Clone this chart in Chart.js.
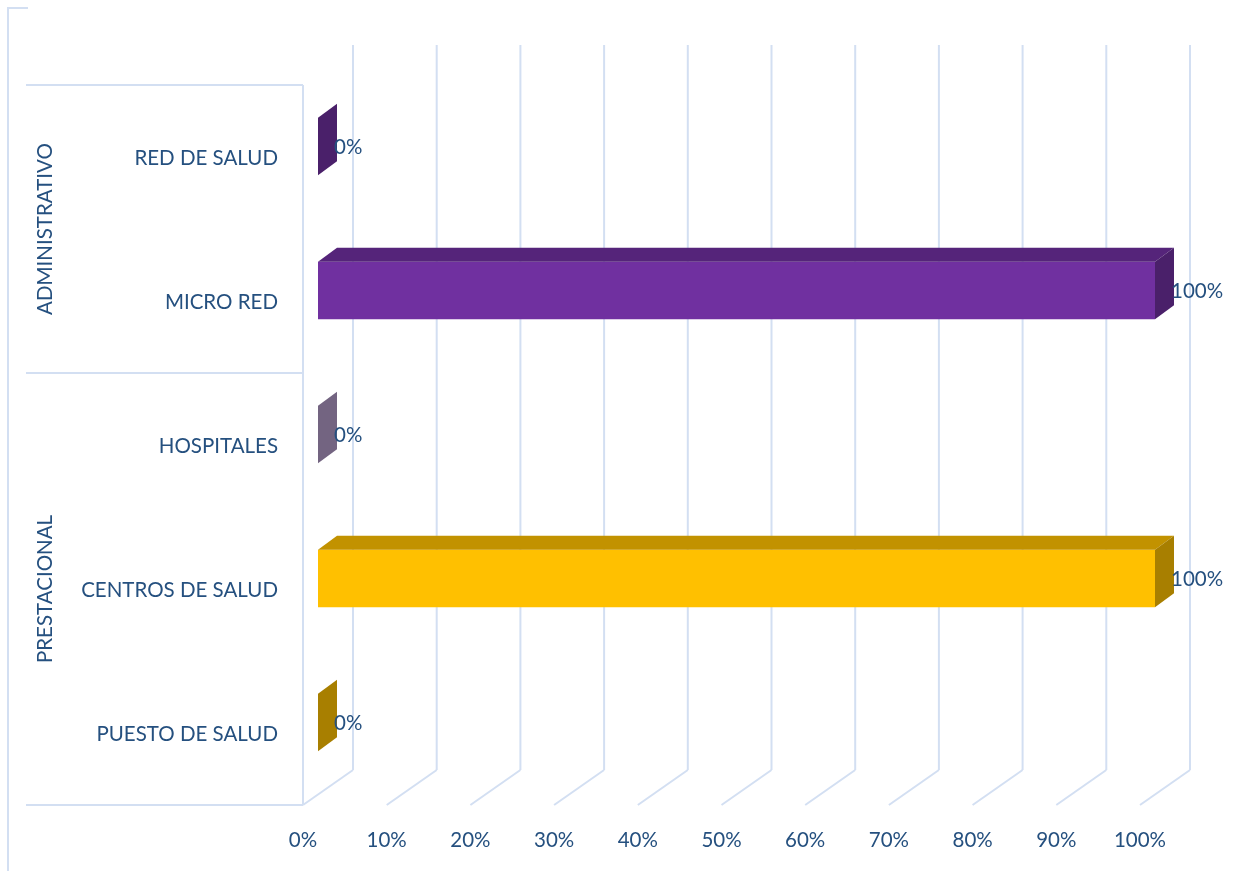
<!DOCTYPE html>
<html>
<head>
<meta charset="utf-8">
<script src="https://cdn.jsdelivr.net/npm/chart.js@4.4.0/dist/chart.umd.min.js"></script>
<style>
  html, body { margin: 0; padding: 0; background: #fff; }
</style>
</head>
<body>
<canvas id="myCanvas" width="1245" height="871"></canvas>
<script>
'use strict';

// data

const categories = ['RED DE SALUD', 'MICRO RED', 'HOSPITALES', 'CENTROS DE SALUD', 'PUESTO DE SALUD'];
const shares = [0, 1, 0, 1, 0];
const groupNames = ['ADMINISTRATIVO', 'PRESTACIONAL'];
const groupSizes = [2, 3];
const tickLabels = ['0%', '10%', '20%', '30%', '40%', '50%', '60%', '70%', '80%', '90%', '100%'];
const barColors = ['#7030a0', '#7030a0', '#ae98c3', '#ffc000', '#ffc000'];

// look of the fake 3d box

const textColor = '#25507f';
const gridColor = '#d3dff2';
const fontFamily = 'Lato, "Open Sans", sans-serif';
const fontSize = 20.5;

// bars sit a bit behind the front plane of the box
const frontDx = -15, frontDy = 10.5;
const backDx = 35, backDy = -24.5;
const barDepthX = 19, barDepthY = -14;
const wallTop = 45;

function shade(hex, f) {
  const n = parseInt(hex.slice(1), 16);
  const r = Math.round(((n >> 16) & 255) * f);
  const g = Math.round(((n >> 8) & 255) * f);
  const b = Math.round((n & 255) * f);
  return `rgb(${r},${g},${b})`;
}

function line(ctx, x1, y1, x2, y2) {
  ctx.beginPath();
  ctx.moveTo(x1, y1);
  ctx.lineTo(x2, y2);
  ctx.stroke();
}

// walls, floor, group boxes on the left
const boxPlugin = {
  id: 'box',
  beforeDatasetsDraw(chart) {
    const ctx = chart.ctx;
    const xs = chart.scales.x;
    const ys = chart.scales.y;
    const area = chart.chartArea;
    ctx.save();
    ctx.strokeStyle = gridColor;
    ctx.lineWidth = 2;

    // outer frame bit
    line(ctx, 8, 871, 8, 8);
    line(ctx, 7, 8, 28, 8);

    const floorFront = area.bottom + frontDy;
    const floorBack = area.bottom + backDy;
    for (let i = 0; i < tickLabels.length; i++) {
      const px = xs.getPixelForValue(i / 10);
      line(ctx, px + backDx, wallTop, px + backDx, floorBack);
      line(ctx, px + frontDx, floorFront, px + backDx, floorBack);
    }

    // category axis on the front plane
    const axisX = area.left + frontDx;
    const topY = area.top + frontDy;
    line(ctx, axisX, topY, axisX, floorFront);

    // group separators and names
    let start = 0;
    let yStart = topY;
    ctx.fillStyle = textColor;
    ctx.font = `${fontSize}px ${fontFamily}`;
    ctx.textAlign = 'center';
    ctx.textBaseline = 'middle';
    line(ctx, 26, yStart, axisX, yStart);
    for (let g = 0; g < groupNames.length; g++) {
      const last = start + groupSizes[g] - 1;
      let yEnd;
      if (last === categories.length - 1) {
        yEnd = floorFront;
      } else {
        yEnd = (ys.getPixelForValue(last) + ys.getPixelForValue(last + 1)) / 2 + frontDy;
      }
      line(ctx, 26, yEnd, axisX, yEnd);
      ctx.save();
      ctx.translate(45, (yStart + yEnd) / 2);
      ctx.rotate(-Math.PI / 2);
      ctx.fillText(groupNames[g], 0, 0);
      ctx.restore();
      start = last + 1;
      yStart = yEnd;
    }
    ctx.restore();
  },
  afterDatasetsDraw(chart) {
    const ctx = chart.ctx;
    const meta = chart.getDatasetMeta(0);
    ctx.save();
    meta.data.forEach((bar, i) => {
      const top = bar.y - bar.height / 2;
      const bottom = bar.y + bar.height / 2;
      const left = bar.base;
      const right = bar.x;
      // top face
      ctx.fillStyle = shade(barColors[i], 0.76);
      ctx.beginPath();
      ctx.moveTo(left, top);
      ctx.lineTo(right, top);
      ctx.lineTo(right + barDepthX, top + barDepthY);
      ctx.lineTo(left + barDepthX, top + barDepthY);
      ctx.closePath();
      ctx.fill();
      // right side face
      ctx.fillStyle = shade(barColors[i], 0.66);
      ctx.beginPath();
      ctx.moveTo(right, top);
      ctx.lineTo(right + barDepthX, top + barDepthY);
      ctx.lineTo(right + barDepthX, bottom + barDepthY);
      ctx.lineTo(right, bottom);
      ctx.closePath();
      ctx.fill();
    });
    // value labels
    ctx.fillStyle = textColor;
    ctx.font = `${fontSize}px ${fontFamily}`;
    ctx.textAlign = 'left';
    ctx.textBaseline = 'middle';
    meta.data.forEach((bar, i) => {
      ctx.fillText(Math.round(shares[i] * 100) + '%', bar.x + 16, bar.y + 1);
    });
    ctx.restore();
  }
};

const config = {
  type: 'bar',
  data: {
    labels: categories,
    datasets: [{
      data: shares,
      backgroundColor: barColors,
      borderWidth: 0,
      categoryPercentage: 1,
      barPercentage: 0.4
    }]
  },
  options: {
    indexAxis: 'y',
    responsive: false,
    animation: false,
    layout: {
      padding: { top: 74.5, right: 90, left: 0, bottom: 0 }
    },
    plugins: {
      legend: { display: false },
      tooltip: { enabled: false }
    },
    scales: {
      x: {
        min: 0,
        max: 1,
        afterFit(scale) { scale.height = 76.5; },
        afterBuildTicks(scale) {
          scale.ticks = tickLabels.map((t, i) => ({ value: i / 10 }));
        },
        grid: { display: false },
        border: { display: false },
        ticks: {
          color: textColor,
          font: { family: fontFamily, size: fontSize },
          padding: 26,
          labelOffset: frontDx,
          maxRotation: 0,
          autoSkip: false,
          callback: (value, index) => tickLabels[index]
        }
      },
      y: {
        afterFit(scale) { scale.width = 318; },
        grid: { display: false, drawTicks: false },
        border: { display: false },
        ticks: {
          color: textColor,
          font: { family: fontFamily, size: fontSize },
          padding: 40,
          labelOffset: frontDy + 1.5,
          autoSkip: false
        }
      }
    }
  },
  plugins: [boxPlugin]
};

const myChart = new Chart(document.getElementById('myCanvas'), config);
</script>
</body>
</html>
